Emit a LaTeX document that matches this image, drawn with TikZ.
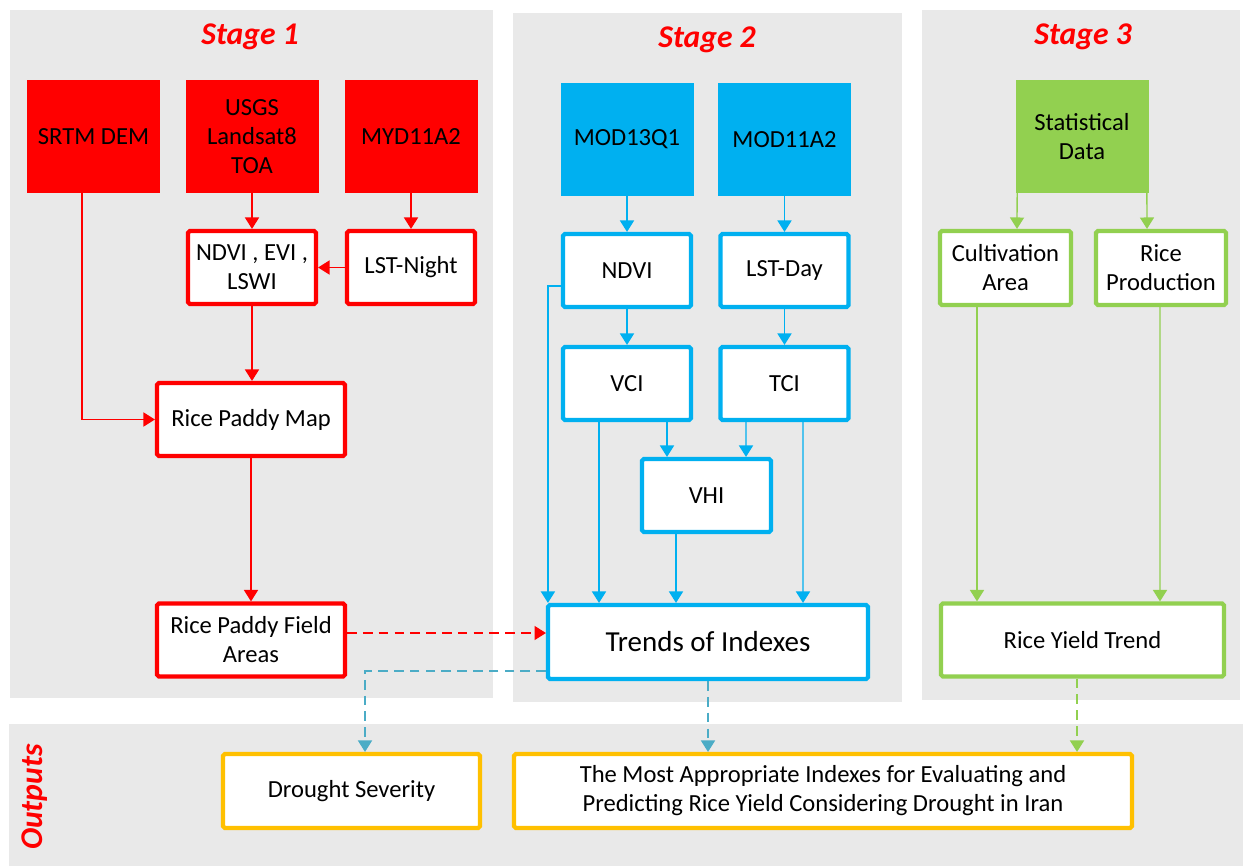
\documentclass[tikz,border=0pt]{standalone}
\usepackage{fontspec}
\setmainfont{Carlito}
\usetikzlibrary{arrows.meta,calc}

\definecolor{stagered}{HTML}{FF0000}
\definecolor{stageblue}{HTML}{00B0F0}
\definecolor{stagegreen}{HTML}{92D050}
\definecolor{outorange}{HTML}{FFC000}
\definecolor{panelgray}{HTML}{E9E9E9}
\definecolor{dashblue}{HTML}{4BACC6}

\begin{document}
\begin{tikzpicture}[x=0.02cm, y=-0.02cm,
  font=\fontsize{14}{16.5}\selectfont,
  srcbox/.style={rectangle, fill=#1, draw=#1, minimum width=2.64cm, minimum height=2.24cm, align=center, inner sep=2pt},
  procbox/.style={rectangle, rounded corners=1pt, fill=white, draw=#1, line width=2.4pt, align=center, inner sep=2pt},
  smallbox/.style={procbox=#1, minimum width=2.56cm, minimum height=1.46cm},
  flow/.style={draw=#1, line width=0.75pt, -{Triangle[length=6.5pt,width=8pt]}},
  dflow/.style={flow=#1, dash pattern=on 5.5pt off 3.5pt},
  stagetitle/.style={font=\fontsize{18}{20}\selectfont\bfseries\itshape, text=stagered}
]

\useasboundingbox (0,0) rectangle (1243,866);

	% panels
\fill[panelgray] (10,10) rectangle (493,698);
\fill[panelgray] (513,13) rectangle (902,702);
\fill[panelgray] (922,10) rectangle (1240,700);
\fill[panelgray] (9,724) rectangle (1243,866);

	% titles
\node[stagetitle] (title1) at (250,37) {Stage 1};
\node[stagetitle] (title2) at (707,40) {Stage 2};
\node[stagetitle] (title3) at (1083,37) {Stage 3};
\node[stagetitle, rotate=90] (titleout) at (35,797) {Outputs};

	% stage 1
\node[srcbox=stagered] (srtm) at (93.5,136.5) {SRTM DEM};
\node[srcbox=stagered] (usgs) at (252,136.5) {USGS\\Landsat8\\TOA};
\node[srcbox=stagered] (myd) at (411,136.5) {MYD11A2};
\node[smallbox=stagered] (ndvi1) at (252,267.5) {NDVI , EVI ,\\LSWI};
\node[smallbox=stagered] (lstn) at (411,267.5) {LST-Night};
\node[procbox=stagered, minimum width=3.76cm, minimum height=1.46cm] (rpm) at (251,419.5) {Rice Paddy Map};
\node[procbox=stagered, minimum width=3.76cm, minimum height=1.46cm] (rpfa) at (251,640) {Rice Paddy Field\\Areas};

\draw[flow=stagered] ($(srtm.south)+(-11.5,0)$) |- (rpm.west);
\draw[flow=stagered] (usgs.south) -- (ndvi1.north);
\draw[flow=stagered] (myd.south) -- (lstn.north);
\draw[flow=stagered] (lstn.west) -- (ndvi1.east);
\draw[flow=stagered] (ndvi1.south) -- (ndvi1.south |- rpm.north);
\draw[flow=stagered] (rpm.south) -- (rpfa.north);

	% stage 2
\node[srcbox=stageblue] (mod13) at (627,139.5) {MOD13Q1};
\node[srcbox=stageblue] (mod11) at (784.5,139.5) {MOD11A2};
\node[smallbox=stageblue] (ndvi2) at (627,270.5) {NDVI};
\node[smallbox=stageblue] (lstd) at (784.5,270.5) {LST-Day};
\node[smallbox=stageblue] (vci) at (627,383.5) {VCI};
\node[smallbox=stageblue, minimum width=2.58cm] (vhi) at (706.5,495.5) {VHI};
\node[smallbox=stageblue] (tci) at (784.5,383.5) {TCI};
\node[procbox=stageblue, minimum width=6.4cm, minimum height=1.48cm, font=\fontsize{16.5}{19}\selectfont] (trends) at (708,642) {Trends of Indexes};

\draw[flow=stageblue] (mod13.south) -- (ndvi2.north);
\draw[flow=stageblue] (mod11.south) -- (lstd.north);
\draw[flow=stageblue] (ndvi2.south) -- (vci.north);
\draw[flow=stageblue] (lstd.south) -- (tci.north);
\draw[flow=stageblue] ($(ndvi2.west)+(0,15.5)$) -| ($(trends.north west)+(2,0)$);
\draw[flow=stageblue] ($(vci.south)+(-28,0)$) -- ($(trends.north)+(-109,0)$);
\draw[flow=stageblue] ($(vci.south)+(40,0)$) -- ($(vhi.north)+(-39.5,0)$);
\draw[flow=stageblue] ($(tci.south)+(-38.5,0)$) -- ($(vhi.north)+(39.5,0)$);
\draw[flow=stageblue] ($(tci.south)+(18.5,0)$) -- ($(trends.north)+(95,0)$);
\draw[flow=stageblue] ($(vhi.south)+(-30.5,0)$) -- ($(trends.north)+(-32,0)$);

	% stage 3
\node[srcbox=stagegreen] (stat) at (1082,136.5) {Statistical\\Data};
\node[smallbox=stagegreen, minimum width=2.62cm, minimum height=1.48cm] (cult) at (1005.5,268) {Cultivation\\Area};
\node[smallbox=stagegreen, minimum width=2.6cm, minimum height=1.48cm] (rprod) at (1161,268) {Rice\\Production};
\node[procbox=stagegreen, minimum width=5.66cm, minimum height=1.46cm] (ryt) at (1082.5,640) {Rice Yield Trend};

\draw[flow=stagegreen] ($(stat.south west)+(1.5,0)$) -- ($(cult.north)+(11.5,0)$);
\draw[flow=stagegreen] ($(stat.south east)+(-1.5,0)$) -- ($(rprod.north)+(-14,0)$);
\draw[flow=stagegreen] ($(cult.south)+(-28.5,0)$) -- ($(ryt.north)+(-105.5,0)$);
\draw[flow=stagegreen] ($(rprod.south)+(-1,0)$) -- ($(ryt.north)+(77.5,0)$);

	% outputs
\node[procbox=outorange, minimum width=5.14cm, minimum height=1.48cm] (drought) at (351.5,791) {Drought Severity};
\node[procbox=outorange, minimum width=12.36cm, minimum height=1.48cm] (most) at (823,791) {The Most Appropriate Indexes for Evaluating and\\Predicting Rice Yield Considering Drought in Iran};

	% dashed links
\draw[dflow=stagered] ($(rpfa.east)+(0,-7)$) -- ($(trends.west)+(0,-9)$);
\draw[dflow=dashblue] ($(trends.west)+(0,29)$) -| ($(drought.north)+(13.5,0)$);
\draw[dflow=dashblue] (trends.south) -- (trends.south |- most.north);
\draw[dflow=stagegreen] ($(ryt.south)+(-5.5,0)$) -- ($(most.north)+(254,0)$);

\end{tikzpicture}
\end{document}
